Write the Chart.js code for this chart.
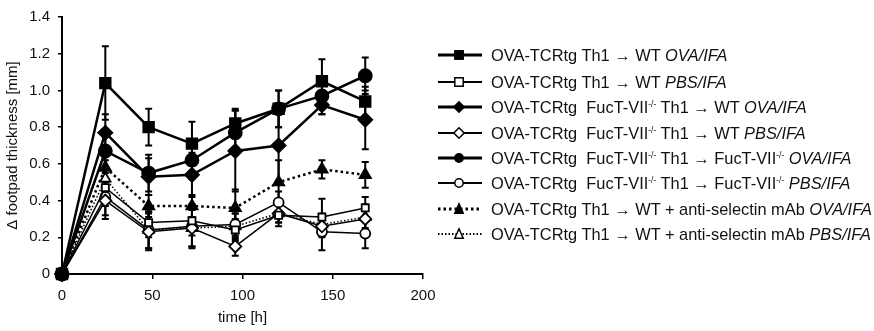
<!DOCTYPE html>
<html lang="en">
<head>
    <meta charset="UTF-8">
    <title>footpad thickness</title>
    <script src="https://cdn.jsdelivr.net/npm/chart.js"></script>
    <style>
        body {
            margin: 0;
            background: #fff;
            font-family: 'Liberation Sans', Arial, sans-serif;
        }
        #wrap {
            position: relative;
            width: 874px;
            height: 331px;
        }
        #legend {
            position: absolute;
            left: 0;
            top: 0;
        }
        .row {
            position: absolute;
            left: 437px;
            height: 20px;
            display: flex;
            align-items: center;
            white-space: nowrap;
            font-size: 16.4px;
            color: #111;
        }
        .row svg { margin-right: 8px; }
        .row sup { font-size: 8.5px; vertical-align: 6px; }
    </style>
</head>
<body>
<div id="wrap">
    <canvas id="chart" width="874" height="331"></canvas>
    <div id="legend"></div>
</div>
<script>
    // time points [h]
    const hours = [0, 24, 48, 72, 96, 120, 144, 168];

    // mean values [mm]
    const wtOva      = [0, 1.04, 0.80, 0.71, 0.82, 0.90, 1.05, 0.94];
    const wtPbs      = [0, 0.47, 0.28, 0.29, 0.24, 0.32, 0.31, 0.36];
    const fucWtOva   = [0, 0.77, 0.53, 0.54, 0.67, 0.70, 0.92, 0.84];
    const fucWtPbs   = [0, 0.40, 0.23, 0.25, 0.15, 0.33, 0.26, 0.30];
    const fucFucOva  = [0, 0.67, 0.55, 0.62, 0.77, 0.90, 0.97, 1.08];
    const fucFucPbs  = [0, 0.42, 0.24, 0.26, 0.27, 0.39, 0.23, 0.22];
    const selOva     = [0, 0.58, 0.37, 0.37, 0.36, 0.50, 0.57, 0.54];
    const selPbs     = [0, 0.52, 0.24, 0.25, 0.26, 0.33, 0.27, 0.31];

    // error bars (+/-)
    const wtOvaErr     = [0, 0.20, 0.10, 0.12, 0.08, 0.10, 0.12, 0.08];
    const wtPbsErr     = [0, 0.10, 0.08, 0.08, 0.06, 0.06, 0.10, 0.06];
    const fucWtOvaErr  = [0, 0.10, 0.10, 0.12, 0.22, 0.20, 0.05, 0.16];
    const fucWtPbsErr  = [0, 0.10, 0.10, 0.10, 0.05, 0.05, 0.06, 0.08];
    const fucFucOvaErr = [0, 0.12, 0.10, 0.10, 0.12, 0.10, 0.10, 0.10];
    const fucFucPbsErr = [0, 0.10, 0.10, 0.12, 0.06, 0.06, 0.10, 0.08];
    const selOvaErr    = [0, 0.10, 0.06, 0.06, 0.10, 0.12, 0.05, 0.07];
    const selPbsErr    = [0, 0.10, 0.10, 0.10, 0.07, 0.05, 0.05, 0.06];

    const yTicks = [0, 0.2, 0.4, 0.6, 0.8, 1.0, 1.2, 1.4];
    const xTicks = [0, 50, 100, 150, 200];

    const arrow = '\u2192';
    const ko = 'FucT-VII<sup>-/-</sup>';
    const legendLabels = [
        'OVA-TCRtg Th1 ' + arrow + ' WT <i>OVA/IFA</i>',
        'OVA-TCRtg Th1 ' + arrow + ' WT <i>PBS/IFA</i>',
        'OVA-TCRtg&nbsp; ' + ko + ' Th1 ' + arrow + ' WT <i>OVA/IFA</i>',
        'OVA-TCRtg&nbsp; ' + ko + ' Th1 ' + arrow + ' WT <i>PBS/IFA</i>',
        'OVA-TCRtg&nbsp; ' + ko + ' Th1 ' + arrow + ' ' + ko + ' <i>OVA/IFA</i>',
        'OVA-TCRtg&nbsp; ' + ko + ' Th1 ' + arrow + ' ' + ko + ' <i>PBS/IFA</i>',
        'OVA-TCRtg Th1 ' + arrow + ' WT + anti-selectin mAb <i>OVA/IFA</i>',
        'OVA-TCRtg Th1 ' + arrow + ' WT + anti-selectin mAb <i>PBS/IFA</i>'
    ];
    const legendTops = [45, 72, 97, 123, 148, 173, 199, 224];

    function series(values, errs, marker, filled, thick, dotted, radius) {
        return {
            data: hours.map((h, i) => ({ x: h, y: values[i] })),
            errors: errs,
            borderColor: '#000',
            backgroundColor: filled ? '#000' : '#fff',
            borderWidth: thick ? 2.5 : 1.5,
            borderDash: dotted ? (thick ? [2.5, 3] : [1.5, 2]) : [],
            pointStyle: marker,
            pointRadius: radius,
            pointBorderWidth: 1.8,
            pointBackgroundColor: filled ? '#000' : '#fff',
            pointBorderColor: '#000',
            clip: false,
            tension: 0
        };
    }

    const datasets = [
        series(wtOva, wtOvaErr, 'rect', true, true, false, 7.5),
        series(wtPbs, wtPbsErr, 'rect', false, false, false, 5),
        series(fucWtOva, fucWtOvaErr, 'rectRot', true, true, false, 7),
        series(fucWtPbs, fucWtPbsErr, 'rectRot', false, false, false, 6),
        series(fucFucOva, fucFucOvaErr, 'circle', true, true, false, 6.5),
        series(fucFucPbs, fucFucPbsErr, 'circle', false, false, false, 5),
        series(selOva, selOvaErr, 'triangle', true, true, true, 6.5),
        series(selPbs, selPbsErr, 'triangle', false, false, true, 6)
    ];

    // draws the +/- error whiskers for every point
    const errorBars = {
        id: 'errorBars',
        beforeDatasetsDraw(chart) {
            const c = chart.ctx;
            const xs = chart.scales.x, ys = chart.scales.y;
            c.save();
            c.strokeStyle = '#000';
            c.lineWidth = 2;
            chart.data.datasets.forEach(ds => {
                ds.data.forEach((p, i) => {
                    const e = ds.errors[i];
                    if (!e) return;
                    const px = xs.getPixelForValue(p.x);
                    const top = ys.getPixelForValue(p.y + e);
                    const bot = ys.getPixelForValue(p.y - e);
                    c.beginPath();
                    c.moveTo(px, top); c.lineTo(px, bot);
                    c.moveTo(px - 3.5, top); c.lineTo(px + 3.5, top);
                    c.moveTo(px - 3.5, bot); c.lineTo(px + 3.5, bot);
                    c.stroke();
                });
            });
            c.restore();
        }
    };

    const tickFont = { family: "'Liberation Sans', Arial, sans-serif", size: 15 };

    new Chart(document.getElementById('chart'), {
        type: 'line',
        data: { datasets: datasets },
        options: {
            responsive: false,
            animation: false,
            layout: { padding: { top: 16, right: 451, left: 0, bottom: 0 } },
            plugins: { legend: { display: false }, tooltip: { enabled: false } },
            scales: {
                x: {
                    type: 'linear',
                    min: 0, max: 200,
                    afterBuildTicks: s => { s.ticks = xTicks.map(v => ({ value: v })); },
                    afterFit: s => { s.height = 57; },
                    border: { color: '#000', width: 2 },
                    grid: { drawOnChartArea: false, drawTicks: true, tickLength: 5, color: '#000', lineWidth: 1.5 },
                    ticks: { color: '#111', font: tickFont, padding: 8, maxRotation: 0 },
                    title: { display: true, text: 'time [h]', color: '#111', font: tickFont, padding: { top: 0 } }
                },
                y: {
                    min: 0, max: 1.4,
                    afterBuildTicks: s => { s.ticks = yTicks.map(v => ({ value: v })); },
                    afterFit: s => { s.width = 62; },
                    border: { color: '#000', width: 2 },
                    grid: { drawOnChartArea: false, drawTicks: true, tickLength: 4, color: '#000', lineWidth: 1.5 },
                    ticks: {
                        color: '#111', font: tickFont, padding: 8,
                        callback: v => v === 0 ? '0' : v.toFixed(1)
                    },
                    title: { display: true, text: '\u0394 footpad thickness [mm]', color: '#111', font: tickFont, padding: { top: 4, bottom: 0 } }
                }
            }
        },
        plugins: [errorBars]
    });

    // legend with line samples
    function sampleSvg(ds) {
        const dash = ds.borderDash.length ? ` stroke-dasharray="${ds.borderDash.join(' ')}"` : '';
        const fill = ds.pointBackgroundColor;
        const r = 4.2;
        let mark = '';
        if (ds.pointStyle === 'rect') {
            mark = `<rect x="${22 - r}" y="${10 - r}" width="${2 * r}" height="${2 * r}" fill="${fill}" stroke="#000" stroke-width="1.5"/>`;
        } else if (ds.pointStyle === 'rectRot') {
            mark = `<polygon points="22,${10 - r - 1} ${22 + r + 1},10 22,${10 + r + 1} ${22 - r - 1},10" fill="${fill}" stroke="#000" stroke-width="1.5"/>`;
        } else if (ds.pointStyle === 'circle') {
            mark = `<circle cx="22" cy="10" r="${r}" fill="${fill}" stroke="#000" stroke-width="1.5"/>`;
        } else {
            mark = `<polygon points="22,${10 - r - 1} ${22 + r},${10 + r} ${22 - r},${10 + r}" fill="${fill}" stroke="#000" stroke-width="1.5"/>`;
        }
        return `<svg width="46" height="20"><line x1="1" y1="10" x2="45" y2="10" stroke="#000" stroke-width="${ds.borderWidth + 0.5}"${dash}/>${mark}</svg>`;
    }

    const legend = document.getElementById('legend');
    datasets.forEach((ds, i) => {
        const row = document.createElement('div');
        row.className = 'row';
        row.style.top = legendTops[i] + 'px';
        row.innerHTML = sampleSvg(ds) + '<span>' + legendLabels[i] + '</span>';
        legend.appendChild(row);
    });
</script>
</body>
</html>
